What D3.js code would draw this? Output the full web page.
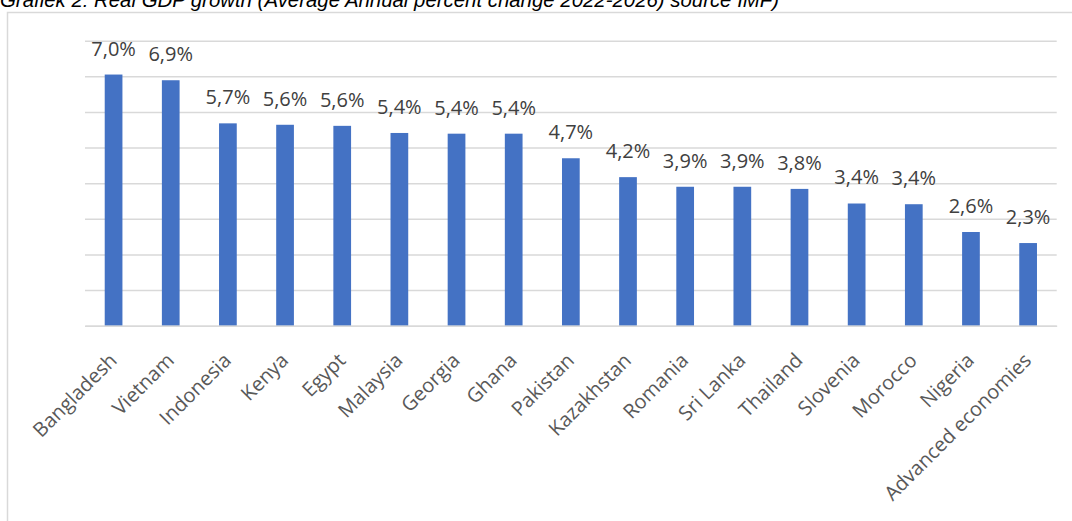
<!DOCTYPE html>
<html>
<head>
<meta charset="utf-8">
<script src="https://cdn.jsdelivr.net/npm/d3@7"></script>
<style>
  body { margin: 0; background: #fff; }
  svg { display: block; }
</style>
</head>
<body>
<div id="chart"></div>
<script>
const titleText = "Grafiek 2: Real GDP growth (Average Annual percent change 2022-2026) source IMF)";

const countries = ["Bangladesh", "Vietnam", "Indonesia", "Kenya", "Egypt", "Malaysia", "Georgia", "Ghana",
    "Pakistan", "Kazakhstan", "Romania", "Sri Lanka", "Thailand", "Slovenia", "Morocco", "Nigeria",
    "Advanced economies"];
const growth = [7.05, 6.89, 5.68, 5.64, 5.61, 5.41, 5.39, 5.39, 4.70, 4.17, 3.90, 3.90, 3.84, 3.43, 3.41, 2.63, 2.32];
const gridTicks = [0, 1, 2, 3, 4, 5, 6, 7, 8];

const width = 1072;
const height = 521;
const margin = { top: 40.7, right: 15.3, bottom: 195.3, left: 85 };
const innerWidth = width - margin.left - margin.right;
const innerHeight = height - margin.top - margin.bottom;

const svg = d3.select("#chart")
    .append("svg")
    .attr("width", width)
    .attr("height", height);

// Chart frame
svg.append("rect")
    .attr("x", 7.5)
    .attr("y", 12.5)
    .attr("width", width + 10)
    .attr("height", height + 10)
    .style("fill", "none")
    .style("stroke", "#d9d9d9")
    .style("stroke-width", 1.5);

// Title (cut off at the top like the original)
svg.append("text")
    .attr("x", 0)
    .attr("y", 7)
    .style("font-family", "'Liberation Sans', Arial, sans-serif")
    .style("font-style", "italic")
    .style("font-size", "20.4px")
    .style("fill", "#000")
    .text(titleText);

const g = svg.append("g")
    .attr("transform", `translate(${margin.left},${margin.top})`);

const x = d3.scaleBand()
    .domain(countries)
    .range([0, innerWidth])
    .paddingInner(0.69)
    .paddingOuter(0.345);

const y = d3.scaleLinear()
    .domain([0, 8])
    .range([innerHeight, 0]);

// Gridlines
g.append("g")
    .call(d3.axisLeft(y).tickValues(gridTicks).tickSize(-innerWidth).tickFormat(""))
    .call(s => s.select(".domain").remove())
    .selectAll("line")
    .style("stroke", "#d9d9d9")
    .style("stroke-width", 1.5);

// Bars
g.selectAll(".bar")
    .data(countries)
    .enter()
    .append("rect")
    .attr("class", "bar")
    .attr("x", d => x(d))
    .attr("y", (d, i) => y(growth[i]))
    .attr("width", x.bandwidth())
    .attr("height", (d, i) => innerHeight - y(growth[i]))
    .style("fill", "#4472c4");

// Value labels
g.selectAll(".val")
    .data(countries)
    .enter()
    .append("text")
    .attr("class", "val")
    .attr("x", d => x(d) + x.bandwidth() / 2)
    .attr("y", (d, i) => y(growth[i]) - 19)
    .attr("text-anchor", "middle")
    .style("font-family", "'Open Sans', sans-serif")
    .style("font-size", "20px")
    .style("fill", "#404040")
    .text((d, i) => growth[i].toFixed(1).replace(".", ",") + "%");

// Category axis
const xAxis = g.append("g")
    .attr("transform", `translate(0,${innerHeight})`)
    .call(d3.axisBottom(x).tickSize(0).tickFormat(""));
xAxis.select(".domain")
    .style("stroke", "#d9d9d9")
    .style("stroke-width", 1.5);

g.selectAll(".cat")
    .data(countries)
    .enter()
    .append("text")
    .attr("class", "cat")
    .attr("transform", d => `translate(${x(d) + x.bandwidth() / 2 + 4.5},${innerHeight + 36}) rotate(-45)`)
    .attr("text-anchor", "end")
    .style("font-family", "'Open Sans', sans-serif")
    .style("font-size", "20px")
    .style("fill", "#595959")
    .text(d => d);
</script>
</body>
</html>
